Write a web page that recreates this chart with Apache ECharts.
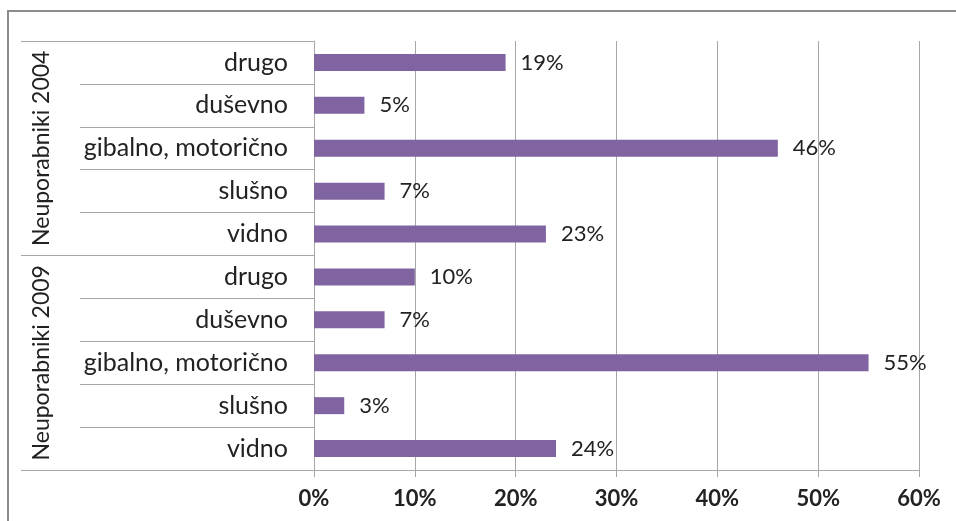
<!DOCTYPE html>
<html>
<head>
<meta charset="utf-8">
<script src="https://cdn.jsdelivr.net/npm/echarts@6/dist/echarts.min.js"></script>
<style>
  html, body { margin: 0; padding: 0; background: #fff; }
  #chart { width: 956px; height: 521px; }
</style>
</head>
<body>
<div id="chart"></div>
<script>
// Categories listed top to bottom; each group of five belongs to one survey year
const categories = [
  'drugo', 'duševno', 'gibalno, motorično', 'slušno', 'vidno',
  'drugo', 'duševno', 'gibalno, motorično', 'slušno', 'vidno'
];
const groups = ['Neuporabniki 2004', 'Neuporabniki 2009'];
// Share of non-users by type of disability (%)
const values = [19, 5, 46, 7, 23, 10, 7, 55, 3, 24];
const xTicks = [0, 10, 20, 30, 40, 50, 60];

const gridColor = '#a6a6a6';
const fontFamily = 'Lato, "Open Sans", sans-serif';

const chart = echarts.init(document.getElementById('chart'), null, { renderer: 'canvas' });

chart.setOption({
  animation: false,
  backgroundColor: '#fff',
  graphic: [{
    type: 'rect',
    shape: { x: 8, y: 11, width: 1000, height: 600 },
    style: { fill: 'none', stroke: '#8c8c8c', lineWidth: 2 },
    silent: true
  }],
  grid: { left: 314, top: 41, right: 37, bottom: 51, containLabel: false },
  xAxis: {
    type: 'value',
    min: xTicks[0],
    max: xTicks[xTicks.length - 1],
    interval: 10,
    axisLine: { show: true, lineStyle: { color: gridColor, width: 1 } },
    axisTick: { show: true, length: 7, lineStyle: { color: gridColor } },
    splitLine: { show: true, lineStyle: { color: gridColor, width: 1 } },
    axisLabel: {
      formatter: '{value}%',
      margin: 18,
      color: '#222',
      fontFamily: fontFamily,
      fontWeight: 'bold',
      fontSize: 22
    }
  },
  yAxis: [{
    type: 'category',
    inverse: true,
    data: categories,
    axisLine: { show: true, lineStyle: { color: gridColor } },
    axisTick: { show: true, interval: 0, length: 234, lineStyle: { color: gridColor } },
    axisLabel: {
      interval: 0,
      margin: 26,
      color: '#222',
      fontFamily: fontFamily,
      fontSize: 25
    },
    splitLine: { show: false }
  }, {
    type: 'category',
    inverse: true,
    position: 'left',
    data: groups,
    axisLine: { show: false },
    axisTick: { show: true, interval: 0, length: 293, lineStyle: { color: gridColor } },
    axisLabel: {
      interval: 0,
      rotate: 90,
      margin: 261,
      color: '#222',
      fontFamily: fontFamily,
      fontSize: 23
    },
    splitLine: { show: false }
  }],
  series: [{
    type: 'bar',
    yAxisIndex: 0,
    data: values,
    barWidth: 17,
    itemStyle: { color: '#8064a2' },
    label: {
      show: true,
      position: 'right',
      distance: 15,
      formatter: '{c}%',
      color: '#222',
      fontFamily: fontFamily,
      fontSize: 22
    }
  }]
});
</script>
</body>
</html>
